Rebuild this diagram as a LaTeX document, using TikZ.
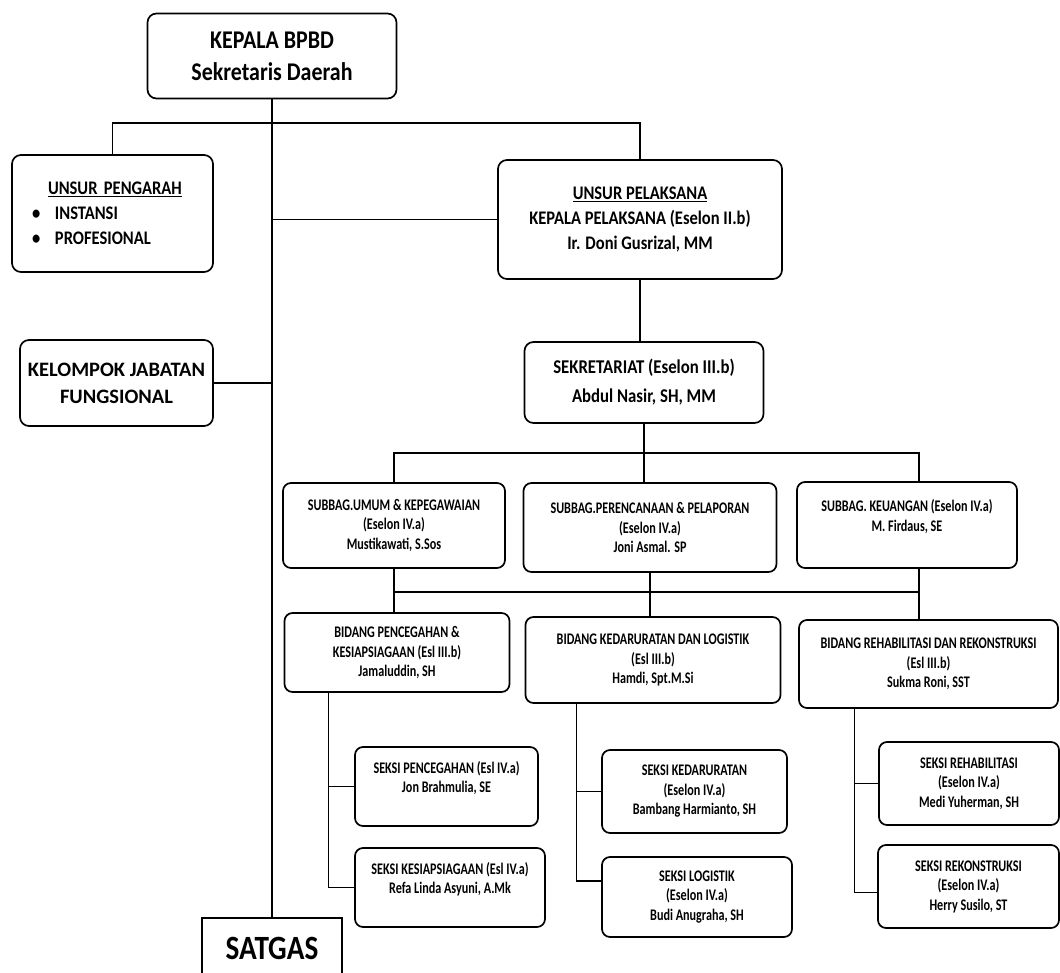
\documentclass[tikz,border=0pt]{standalone}
\usepackage{fontspec}
\setmainfont{Carlito}
\newfontfamily\widefont{Carlito}[FakeStretch=0.86]
\newfontfamily\narrowfont{Carlito}[FakeStretch=0.75]
\begin{document}
\begin{tikzpicture}[x=1pt, y=-1pt,
  box/.style={draw, line width=1.7pt, rounded corners=9pt, align=center, inner sep=0pt},
  boss/.style={box, font={\widefont\bfseries\fontsize{25.5}{32}\selectfont}},
  unit/.style={box, font={\widefont\bfseries\fontsize{19.2}{25}\selectfont}},
  sub/.style={box, rounded corners=8pt, font={\narrowfont\bfseries\fontsize{16.2}{19.5}\selectfont}},
  link/.style={line width=1.3pt}]
\useasboundingbox (0,0) rectangle (1060,973);
\clip (0,0) rectangle (1060,973);

% top
  \node[boss, minimum width=249pt, minimum height=85pt] (kepala) at (272,56) {KEPALA BPBD\\Sekretaris Daerah};
  \node[unit, minimum width=201pt, minimum height=117pt, align=left, text width=161pt, inner xsep=20pt] (pengarah) at (112.5,213.5)
    {\hspace*{16pt}\underline{UNSUR PENGARAH}\\\makebox[23pt][l]{\textbullet}INSTANSI\\\makebox[23pt][l]{\textbullet}PROFESIONAL};
  \node[unit, minimum width=284pt, minimum height=119pt] (pelaksana) at (640,219.5)
    {\underline{UNSUR PELAKSANA}\\KEPALA PELAKSANA (Eselon II.b)\\Ir. Doni Gusrizal, MM};
  \node[unit, minimum width=193pt, minimum height=86pt, font={\bfseries\fontsize{20.5}{27}\selectfont}] (kelompok) at (116.5,383) {KELOMPOK JABATAN\\FUNGSIONAL};
  \node[draw, line width=1.7pt, minimum width=140pt, minimum height=60pt, font={\widefont\bfseries\fontsize{34}{38}\selectfont}] (satgas) at (272,948) {SATGAS};

  % sekretariat and subbag
  \node[unit, minimum width=239pt, minimum height=81pt, font={\widefont\bfseries\fontsize{19.5}{29}\selectfont}] (sekretariat) at (644,382.5)
    {SEKRETARIAT (Eselon III.b)\\Abdul Nasir, SH, MM};
  \node[sub, minimum width=222pt, minimum height=85pt] (umum) at (394,525.5) {SUBBAG.UMUM \& KEPEGAWAIAN\\(Eselon IV.a)\\Mustikawati, S.Sos};
  \node[sub, minimum width=253pt, minimum height=89pt] (perenc) at (650,527.5) {SUBBAG.PERENCANAAN \& PELAPORAN\\(Eselon IV.a)\\Joni Asmal. SP};
  \node[sub, minimum width=220pt, minimum height=86pt] (keuangan) at (907,525) {SUBBAG. KEUANGAN (Eselon IV.a)\\M. Firdaus, SE\\\mbox{}};

  % bidang
  \node[sub, minimum width=225pt, minimum height=79pt] (bidang1) at (397,652.5) {BIDANG PENCEGAHAN \&\\KESIAPSIAGAAN (Esl III.b)\\Jamaluddin, SH};
  \node[sub, minimum width=255pt, minimum height=86pt] (bidang2) at (653,660) {BIDANG KEDARURATAN DAN LOGISTIK\\(Esl III.b)\\Hamdi, Spt.M.Si};
  \node[sub, minimum width=259pt, minimum height=88pt] (bidang3) at (928.5,664) {BIDANG REHABILITASI DAN REKONSTRUKSI\\(Esl III.b)\\Sukma Roni, SST};

  % seksi
  \node[sub, minimum width=183pt, minimum height=79pt] (pencegahan) at (446.5,786.5) {SEKSI PENCEGAHAN (Esl IV.a)\\Jon Brahmulia, SE\\\mbox{}};
  \node[sub, minimum width=190pt, minimum height=79pt] (kesiap) at (450,887.5) {SEKSI KESIAPSIAGAAN (Esl IV.a)\\Refa Linda Asyuni, A.Mk\\\mbox{}};
  \node[sub, minimum width=185pt, minimum height=83pt] (kedar) at (694.5,791.5) {SEKSI KEDARURATAN\\(Eselon IV.a)\\Bambang Harmianto, SH};
  \node[sub, minimum width=190pt, minimum height=80pt] (logistik) at (697,897) {SEKSI LOGISTIK\\(Eselon IV.a)\\Budi Anugraha, SH};
  \node[sub, minimum width=180pt, minimum height=83pt] (rehab) at (969,783.5) {SEKSI REHABILITASI\\(Eselon IV.a)\\Medi Yuherman, SH};
  \node[sub, minimum width=181pt, minimum height=83pt] (rekon) at (968.5,886.5) {SEKSI REKONSTRUKSI\\(Eselon IV.a)\\Herry Susilo, ST};

  % lines
  \coordinate (bar1) at (272,123);
  \coordinate (bar2) at (0,453);
  \coordinate (bar3) at (0,592);
  \coordinate (k1) at ([xshift=12pt]keuangan.north);
  \coordinate (k2) at ([xshift=12pt]keuangan.south);
  \draw[link] (kepala.south) -- (satgas.north);
  \draw[link] (pengarah.north) |- (bar1) -| (pelaksana.north);
  \draw[link] (pelaksana.west) -- (pelaksana.west -| kepala.south);
  \draw[link] (kelompok.east) -- (kelompok.east -| kepala.south);
  \draw[link] (pelaksana.south) -- (pelaksana.south |- sekretariat.north);
  \draw[link] (sekretariat.south) -- (sekretariat.south |- perenc.north);
  \draw[link] (umum.north) |- (bar2 -| k1) -- (k1);
  \draw[link] (umum.south |- bar3) -- (k2 |- bar3);
  \draw[link] (umum.south) -- (umum.south |- bidang1.north);
  \draw[link] (perenc.south) -- (perenc.south |- bidang2.north);
  \draw[link] (k2) -- (k2 |- bidang3.north);
  \draw[link] ([xshift=44.5pt]bidang1.south west) |- (pencegahan.west);
  \draw[link] ([xshift=44.5pt]bidang1.south west) |- (kesiap.west);
  \draw[link] ([xshift=51.5pt]bidang2.south west) |- (kedar.west);
  \draw[link] ([xshift=51.5pt]bidang2.south west) |- ([yshift=16pt]logistik.west);
  \draw[link] ([xshift=56pt]bidang3.south west) |- (rehab.west);
  \draw[link] ([xshift=56pt]bidang3.south west) |- ([yshift=-6pt]rekon.west);
\end{tikzpicture}
\end{document}
